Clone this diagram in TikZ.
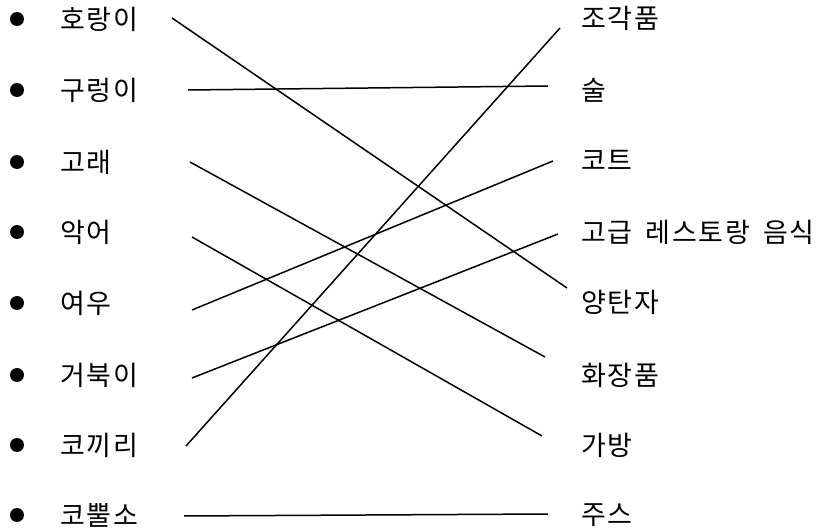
\documentclass[tikz,border=0pt]{standalone}
\usepackage{fontspec}
\setmainfont{Noto Sans CJK KR}[LetterSpace=7,WordSpace=1.6]
\begin{document}
\begin{tikzpicture}[x=1pt,y=-1pt,
  lbl/.style={anchor=west,inner sep=0pt,font=\fontsize{27}{32}\selectfont},
  dot/.style={circle,fill=black,inner sep=0pt,minimum size=14pt},
  link/.style={line width=1.5pt}]
\useasboundingbox (0,0) rectangle (823,532);
% bullets
\foreach \y/\n in {19/1,90/2,162/3,232/4,303/5,375/6,445/7,515/8}
  \node[dot] (b\n) at (17,\y) {};
% left labels
\node[lbl] (l1) at (60,19) {호랑이};
\node[lbl] (l2) at (60,90) {구렁이};
\node[lbl] (l3) at (60,162) {고래};
\node[lbl] (l4) at (60,232) {악어};
\node[lbl] (l5) at (60,303) {여우};
\node[lbl] (l6) at (60,375) {거북이};
\node[lbl] (l7) at (60,445) {코끼리};
\node[lbl] (l8) at (60,515) {코뿔소};
% right labels
\node[lbl] (r1) at (581,18) {조각품};
\node[lbl] (r2) at (581,90) {술};
\node[lbl] (r3) at (581,160) {코트};
\node[lbl] (r4) at (581,232) {고급 레스토랑 음식};
\node[lbl] (r5) at (581,302) {양탄자};
\node[lbl] (r6) at (581,375) {화장품};
\node[lbl] (r7) at (581,445) {가방};
\node[lbl] (r8) at (581,515) {주스};
% line end points
\coordinate (s1) at (172,18);  \coordinate (e5) at (567,288);
\coordinate (s2) at (188,90);  \coordinate (e2) at (548,86);
\coordinate (s3) at (190,162); \coordinate (e6) at (545,357);
\coordinate (s4) at (192,237); \coordinate (e7) at (542,436);
\coordinate (s5) at (192,310); \coordinate (e3) at (553,161);
\coordinate (s6) at (192,378); \coordinate (e4) at (558,234);
\coordinate (s7) at (186,446); \coordinate (e1) at (560,28);
\coordinate (s8) at (184,516); \coordinate (e8) at (548,514);
\draw[link] (s1) -- (e5);
\draw[link] (s2) -- (e2);
\draw[link] (s3) -- (e6);
\draw[link] (s4) -- (e7);
\draw[link] (s5) -- (e3);
\draw[link] (s6) -- (e4);
\draw[link] (s7) -- (e1);
\draw[link] (s8) -- (e8);
\end{tikzpicture}
\end{document}
